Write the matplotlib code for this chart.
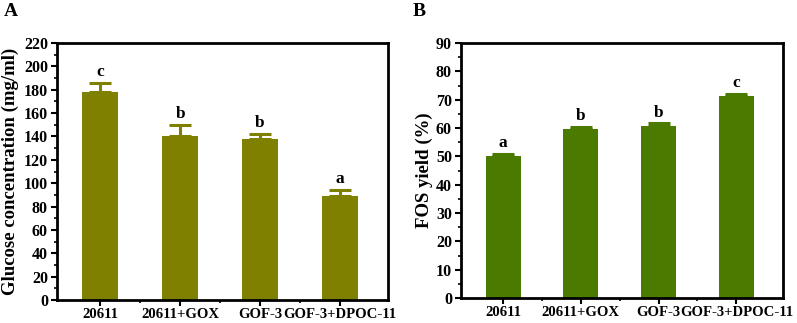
import matplotlib
matplotlib.use("Agg")
import matplotlib.pyplot as plt
from matplotlib.ticker import MultipleLocator, FixedLocator
import numpy as np

categories = ["20611", "20611+GOX", "GOF-3", "GOF-3+DPOC-11"]
glucose = [178, 140, 138, 89]
glucose_err = [8, 10, 4, 5]
glucose_sig = ["c", "b", "b", "a"]
fos = [50.0, 59.5, 60.8, 71.2]
fos_err = [1.0, 0.8, 0.8, 0.8]
fos_sig = ["a", "b", "b", "c"]

plt.rcParams['font.family'] = ['Liberation Serif', 'DejaVu Serif']
plt.rcParams['font.weight'] = 'bold'

fig = plt.figure(figsize=(7.97, 3.23), dpi=100)
W, H = 797, 323
axA = fig.add_axes([57 / W, 1 - 300 / H, (388 - 57) / W, (300 - 43) / H])
axB = fig.add_axes([461 / W, 1 - 298 / H, (783 - 461) / W, (298 - 43) / H])


def panel(ax, vals, errs, sig, color, ylim, major, minor, ylabel, labx):
    x = np.arange(len(categories))
    ax.bar(x, vals, width=0.45, color=color, zorder=2)
    ax.errorbar(x, vals, yerr=[np.zeros(len(errs)), errs], fmt='none',
                ecolor=color, elinewidth=2.2, capsize=8, capthick=2.2, zorder=1)
    for xi, v, e, s in zip(x, vals, errs, sig):
        ax.annotate(s, (xi, v + e), xytext=(0, 2), textcoords='offset points',
                    ha='center', va='bottom', fontsize=12.5, fontweight='bold')
    ax.set_xlim(-0.54, 3.6)
    ax.set_ylim(*ylim)
    ax.yaxis.set_major_locator(MultipleLocator(major))
    ax.yaxis.set_minor_locator(MultipleLocator(minor))
    ax.set_xticks(x)
    ax.set_xticklabels(categories)
    ax.xaxis.set_minor_locator(FixedLocator([0.5, 1.5, 2.5]))
    ax.tick_params(axis='y', which='major', direction='out', length=4, width=1.5,
                   labelsize=11.5, right=False, pad=2.5)
    ax.tick_params(axis='x', which='major', direction='out', length=4, width=1.5,
                   labelsize=10.6, top=False, pad=1.5)
    ax.tick_params(axis='both', which='minor', direction='out', length=2.5, width=1.2,
                   top=False, right=False)
    for lab in ax.get_xticklabels() + ax.get_yticklabels():
        lab.set_fontweight('bold')
    for sp in ax.spines.values():
        sp.set_linewidth(2)
    ax.set_ylabel(ylabel, fontsize=13.5, fontweight='bold')
    ax.yaxis.set_label_coords(labx, 0.5)


panel(axA, glucose, glucose_err, glucose_sig, '#808000', (0, 220), 20, 10,
      'Glucose concentration (mg/ml)', -0.115)
panel(axB, fos, fos_err, fos_sig, '#4B7A00', (0, 90), 10, 5, 'FOS yield (%)', -0.088)

fig.text(4 / W, 1 - 12 / H, 'A', fontsize=14, fontweight='bold', va='center', ha='left')
fig.text(413 / W, 1 - 12 / H, 'B', fontsize=14, fontweight='bold', va='center', ha='left')

fig.savefig('out.png', dpi=100)
